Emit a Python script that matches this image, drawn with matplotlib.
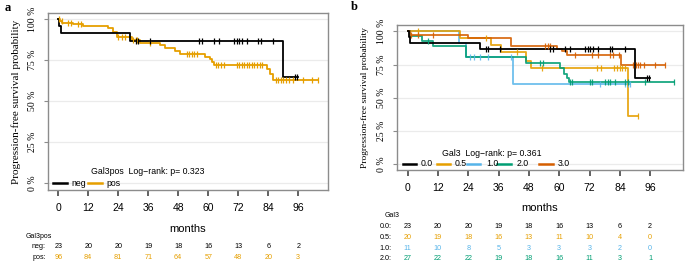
import numpy as np
import matplotlib
matplotlib.use('Agg')
import matplotlib.pyplot as plt
import matplotlib.transforms as mtransforms
from matplotlib.lines import Line2D

plt.rcParams['font.family'] = ['Liberation Sans', 'DejaVu Sans']

# ---- panel a: Gal3pos ----
neg_t = [0.4, 1.1, 28.7, 90.0]
neg_s = [95.7, 91.3, 86.7, 65.0]
neg_end = 96.0
neg_cens = [31.0, 32.0, 36.7, 56.4, 57.4, 62.3, 64.3, 70.3, 71.3, 72.3, 73.4,
            75.3, 80.0, 81.0, 86.0, 94.7, 95.6]

pos_t = [0.8, 1.6, 6.0, 10.0, 20.0, 22.0, 23.4, 29.4, 32.7, 40.7, 42.7, 46.7,
         48.7, 58.7, 60.7, 61.5, 62.3, 83.6, 84.7, 86.0]
pos_s = [99.0, 97.9, 96.8, 95.7, 94.6, 92.4, 89.2, 87.2, 85.7, 84.1, 82.5, 80.5,
         78.7, 77.0, 75.6, 74.0, 72.2, 69.9, 66.8, 62.6]
pos_end = 103.8
pos_cens = [0.3, 1.3, 4.0, 5.0, 8.0, 9.0, 24.0, 25.4, 26.7, 30.0, 31.0, 31.6,
            36.7, 51.4, 52.4, 53.4, 54.3, 55.4, 63.0, 63.8, 65.0, 66.2, 71.3,
            72.4, 73.4, 74.3, 75.3, 76.3, 77.4, 78.4, 79.4, 80.7, 81.6, 87.1,
            88.0, 89.0, 90.0, 91.1, 92.4, 93.8, 98.0, 101.4, 103.8]

risk_times = [0, 12, 24, 36, 48, 60, 72, 84, 96]
risk_a_neg = [23, 20, 20, 19, 18, 16, 13, 6, 2]
risk_a_pos = [96, 84, 81, 71, 64, 57, 48, 20, 3]

# ---- panel b: Gal3 score ----
g05_t = [20.6, 33.0, 37.1, 47.0, 49.0, 87.1]
g05_s = [95.0, 90.0, 84.7, 78.0, 72.3, 36.1]
g05_end = 91.1
g05_cens = [4.1, 31.2, 43.1, 53.0, 74.8, 76.6, 81.5, 82.8, 84.1, 85.0, 86.2, 91.1]

g10_t = [20.2, 23.0, 41.8]
g10_s = [90.9, 80.8, 60.6]
g10_end = 88.1
g10_cens = [24.6, 26.3, 28.6, 31.9, 41.0, 76.2, 86.1, 87.4, 88.1]

g20_t = [0.8, 5.7, 10.0, 23.3, 47.0, 60.3, 61.9, 63.0, 63.9]
g20_s = [96.3, 92.6, 88.9, 80.8, 76.3, 72.0, 67.5, 64.5, 62.0]
g20_end = 105.3
g20_cens = [8.0, 52.4, 53.7, 64.3, 65.2, 72.2, 73.1, 78.2, 79.2, 80.2, 82.1,
            86.1, 87.1, 94.0, 105.3]

g30_t = [0.8, 23.9, 41.1, 59.0, 61.0, 63.0, 84.5]
g30_s = [97.0, 95.0, 89.2, 87.0, 85.0, 82.5, 74.4]
g30_end = 102.0
g30_cens = [1.5, 4.0, 10.0, 54.3, 55.4, 56.3, 66.3, 72.9, 75.5, 80.2, 81.2,
            83.5, 89.4, 90.3, 91.1, 92.1, 93.4, 98.0, 102.0]

risk_b_labels = ['0.0:', '0.5:', '1.0:', '2.0:']
risk_b = [[23, 20, 20, 19, 18, 16, 13, 6, 2],
          [20, 19, 18, 16, 13, 11, 10, 4, 0],
          [11, 10, 8, 5, 3, 3, 3, 2, 0],
          [27, 22, 22, 19, 18, 16, 11, 3, 1]]

BLACK = '#000000'
ORANGE = '#E69F00'
SKY = '#56B4E9'
GREEN = '#009E73'
RED = '#D55E00'

W, H = 685, 263
fig = plt.figure(figsize=(W / 100, H / 100), dpi=100)


def fx(px):
    return px / W


def fy(py):
    return 1 - py / H


def km(ax, t, s, end, cens, color, alpha=1.0):
    tt = np.concatenate([[0.0], t, [end]])
    ss = np.concatenate([[100.0], s, [s[-1]]])
    ax.step(tt, ss, where='post', color=color, lw=1.3, alpha=alpha, zorder=3)
    idx = np.searchsorted(np.array(t), np.array(cens), side='right')
    cs = np.concatenate([[100.0], s])[idx]
    ax.plot(cens, cs, ls='none', marker='|', ms=5, mew=0.9, color=color,
            alpha=alpha, zorder=4)


def style_axes(ax, xlim, ylim, ylab_size):
    ax.set_xlim(*xlim)
    ax.set_ylim(*ylim)
    for sp in ax.spines.values():
        sp.set_color('#8c8c8c')
        sp.set_linewidth(1.0)
    ax.set_yticks([0, 25, 50, 75, 100])
    ax.set_yticklabels(['0 %', '25 %', '50 %', '75 %', '100 %'],
                       family='Liberation Serif', fontsize=7, rotation=90,
                       va='center')
    ax.set_xticks(risk_times)
    ax.set_xticklabels([str(v) for v in risk_times], fontsize=7.5)
    ax.tick_params(axis='x', length=4, width=1.3, color='#555555', pad=5.5)
    ax.tick_params(axis='y', length=3, width=0.8, color='#8c8c8c', pad=5)
    ax.grid(axis='y', color='#ebebeb', lw=0.9, zorder=0)
    ax.set_axisbelow(True)
    ax.set_ylabel('Progression-free survival probability',
                  family='Liberation Serif', fontsize=ylab_size)


def legend_row(title, title_xy, items, y, fs=6.3):
    fig.text(fx(title_xy[0]), fy(title_xy[1]), title, fontsize=fs,
             ha='left', va='center')
    for x0, x1, xt, lab, col in items:
        fig.add_artist(Line2D([fx(x0), fx(x1)], [fy(y), fy(y)], color=col,
                              lw=1.8))
        fig.text(fx(xt), fy(y), lab, fontsize=fs, ha='left', va='center')


# ---------------- panel a ----------------
axa = fig.add_axes([fx(48), fy(190), fx(328 - 48), fy(13) - fy(190)])
km(axa, pos_t, pos_s, pos_end, pos_cens, ORANGE)
km(axa, neg_t, neg_s, neg_end, neg_cens, BLACK)
style_axes(axa, (-4.1, 107.9), (-4.3, 103.8), 8)
axa.yaxis.labelpad = 5
fig.text(fx(188), fy(229), 'months', fontsize=8, ha='center', va='center')
fig.text(fx(5), fy(8), 'a', fontsize=9, fontweight='bold',
         family='Liberation Serif', ha='left', va='center')

legend_row('Gal3pos  Log\u2212rank: p= 0.323', (91, 171),
           [(53, 67, 71, 'neg', BLACK), (88, 102, 106, 'pos', ORANGE)], 183)

ta = mtransforms.blended_transform_factory(axa.transData, fig.transFigure)
fig.text(fx(26), fy(236), 'Gal3pos', fontsize=5, ha='left', va='center')
for lab, vals, col, y in [('neg:', risk_a_neg, BLACK, 246.7),
                          ('pos:', risk_a_pos, ORANGE, 257.5)]:
    fig.text(fx(46), fy(y), lab, fontsize=5.2, ha='right', va='center')
    for t, v in zip(risk_times, vals):
        axa.text(t, fy(y), str(v), transform=ta, fontsize=5.2, color=col,
                 ha='center', va='center')

# ---------------- panel b ----------------
axb = fig.add_axes([fx(397), fy(170), fx(683 - 397), fy(25) - fy(170)])
km(axb, g10_t, g10_s, g10_end, g10_cens, SKY, 0.85)
km(axb, g05_t, g05_s, g05_end, g05_cens, ORANGE, 0.9)
km(axb, g20_t, g20_s, g20_end, g20_cens, GREEN, 0.9)
km(axb, g30_t, g30_s, g30_end, g30_cens, RED, 0.9)
km(axb, neg_t, neg_s, neg_end, neg_cens, BLACK)
style_axes(axb, (-4.2, 109.0), (-4.3, 104.7), 6.8)
axb.yaxis.labelpad = 6
fig.text(fx(540), fy(208), 'months', fontsize=8, ha='center', va='center')
fig.text(fx(351), fy(7), 'b', fontsize=9, fontweight='bold',
         family='Liberation Serif', ha='left', va='center')

legend_row('Gal3  Log\u2212rank: p= 0.361', (442, 154),
           [(403, 416, 421, '0.0', BLACK), (437, 450, 455, '0.5', ORANGE),
            (467, 480, 486, '1.0', SKY), (497, 511, 517, '2.0', GREEN),
            (539, 553, 558, '3.0', RED)], 164)

tb = mtransforms.blended_transform_factory(axb.transData, fig.transFigure)
fig.text(fx(385), fy(215.7), 'Gal3', fontsize=5, ha='left', va='center')
for lab, vals, col, y in zip(risk_b_labels, risk_b, [BLACK, ORANGE, SKY, GREEN],
                             [226.7, 237.3, 248.0, 258.7]):
    fig.text(fx(392), fy(y), lab, fontsize=5.2, ha='right', va='center')
    for t, v in zip(risk_times, vals):
        axb.text(t, fy(y), str(v), transform=tb, fontsize=5.2, color=col,
                 ha='center', va='center')

fig.savefig('out.png', dpi=100)
